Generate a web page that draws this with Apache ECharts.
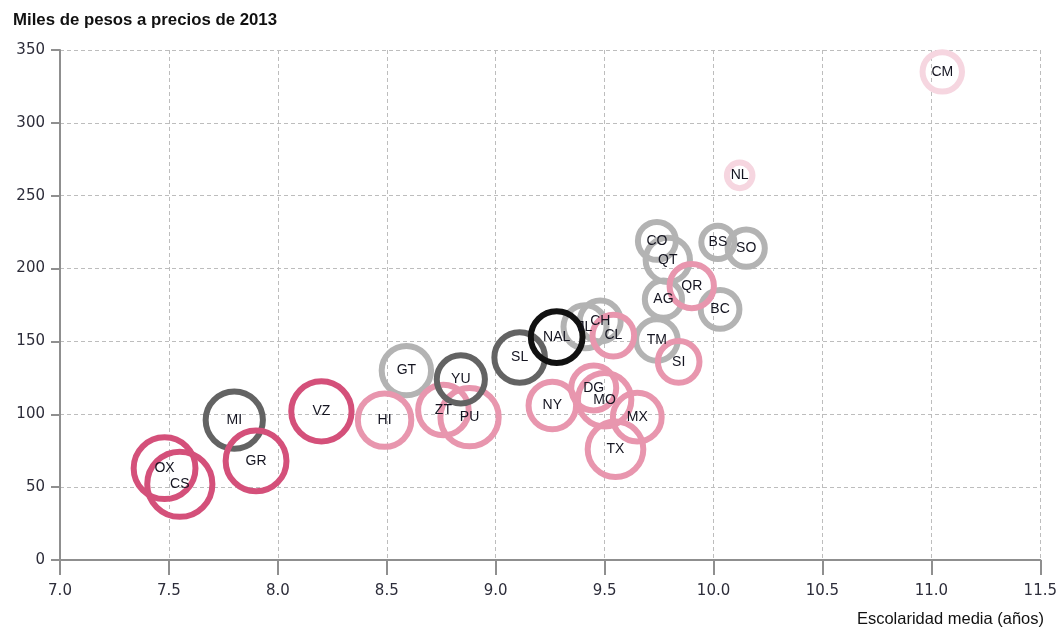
<!DOCTYPE html>
<html>
<head>
<meta charset="utf-8">
<script src="https://cdn.jsdelivr.net/npm/echarts@6/dist/echarts.min.js"></script>
<style>
html,body{margin:0;padding:0;background:#fff;overflow:hidden;}
#chart{width:1060px;height:629px;}
</style>
</head>
<body>
<div id="chart"></div>
<script>
// ---- Data ----
const estados     = ['OX','CS','MI','GR','VZ','HI','GT','YU','ZT','PU','SL','NAL','JL','CH','CL','NY','DG','MO','MX','TX','TM','SI','AG','QR','BC','CO','QT','BS','SO','NL','CM'];
const escolaridad = [7.48,7.55,7.80,7.90,8.20,8.49,8.59,8.84,8.76,8.88,9.11,9.28,9.41,9.48,9.54,9.26,9.45,9.50,9.65,9.55,9.74,9.84,9.77,9.90,10.03,9.74,9.79,10.02,10.15,10.12,11.05];
const ingreso     = [63,52,96,68,102,96,130,124,103,98,139,153,160,164,154,106,118,110,98,76,151,136,179,188,172,219,206,218,214,264,335];
const pobreza     = [69,76,60,67,66,53,46,44,48,62,48,50,36,33,34,43,39,53,45,57,34,34,28,38,30,29,38,23,28,15,31];
const grupo       = ['ro','ro','go','ro','ro','rc','gc','go','rc','rc','go','n','gc','gc','rc','rc','rc','rc','rc','rc','gc','rc','gc','rc','gc','gc','gc','gc','gc','rl','rl'];
const xTicks = [7.0,7.5,8.0,8.5,9.0,9.5,10.0,10.5,11.0,11.5];
const yTicks = [0,50,100,150,200,250,300,350];

// ---- Styles ----
const colores = {gc:'#b3b3b3', rl:'#f6d6e0', rc:'#e896ae', go:'#636363', ro:'#d4507a', n:'#111111'};
const orden   = ['gc','rl','rc','go','ro','n'];
const BW = 6;

const sorted = estados.map((e,i)=>({i, e, g: grupo[i]}))
  .sort((a,b)=>orden.indexOf(a.g)-orden.indexOf(b.g));
const items = sorted.map(o=>({
    name: o.e,
    value: [escolaridad[o.i], ingreso[o.i], pobreza[o.i]],
    itemStyle: {color:'rgba(0,0,0,0)', borderColor: colores[o.g], borderWidth: BW, opacity:1}
  }));
const labelItems = sorted.map(o=>({name:o.e, value:[escolaridad[o.i], ingreso[o.i]]}));

const axisCol = '#8f8f8f';
const fam = '"Liberation Sans", Arial, Helvetica, sans-serif';
const famNum = '"DejaVu Sans", "Liberation Sans", sans-serif';

const chart = echarts.init(document.getElementById('chart'), null, {renderer:'canvas'});
chart.setOption({
  animation:false,
  backgroundColor:'#fff',
  title:[
    {text:'Miles de pesos a precios de 2013', left:8, top:7,
     textStyle:{fontFamily:fam, fontSize:16.8, fontWeight:'bold', color:'#111'}},
    {text:'Escolaridad media (años)', right:11, bottom:-4,
     textStyle:{fontFamily:fam, fontSize:16.5, fontWeight:'normal', color:'#111'}}
  ],
  grid:{left:60, right:16, top:50, bottom:69, containLabel:false},
  xAxis:{
    type:'value', min:xTicks[0], max:xTicks[xTicks.length-1], interval:0.5,
    axisLine:{show:true, onZero:false, lineStyle:{color:axisCol, width:2}},
    axisTick:{show:true, length:15, lineStyle:{color:axisCol, width:2}},
    axisLabel:{margin:24, fontFamily:famNum, fontSize:15, color:'#2d2d3a',
      formatter:v=>v.toFixed(1)},
    splitLine:{show:true, lineStyle:{color:'#bdbdbd', type:[4,3], width:1}}
  },
  yAxis:{
    type:'value', min:yTicks[0], max:yTicks[yTicks.length-1], interval:50,
    axisLine:{show:true, lineStyle:{color:axisCol, width:2}},
    axisTick:{show:true, length:9, lineStyle:{color:axisCol, width:2}},
    axisLabel:{margin:15, fontFamily:famNum, fontSize:15, color:'#2d2d3a'},
    splitLine:{show:true, lineStyle:{color:'#bdbdbd', type:[4,3], width:1}}
  },
  series:[{
    type:'scatter',
    z:2,
    data: items,
    symbol:'circle',
    symbolSize: v => 2*Math.sqrt(v[2]/0.06) - BW,
    label:{show:false},
    emphasis:{disabled:true},
    silent:true
  },{
    type:'scatter',
    z:5,
    data: labelItems,
    symbolSize: 1,
    itemStyle:{color:'rgba(0,0,0,0)', opacity:1},
    label:{show:true, position:'inside', formatter:p=>p.name,
      fontFamily:fam, fontSize:14, color:'#141420'},
    emphasis:{disabled:true},
    silent:true
  }]
});
</script>
</body>
</html>
